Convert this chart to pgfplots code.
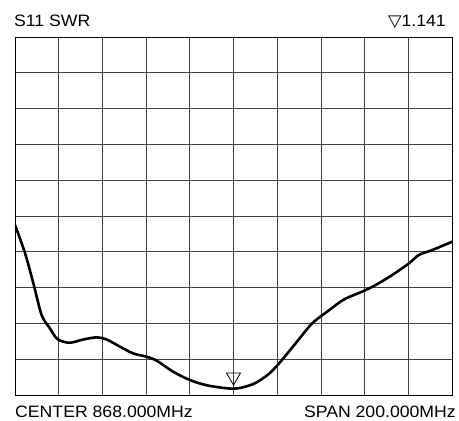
\documentclass[border=0pt]{standalone}
\usepackage{pgfplots}
\pgfplotsset{compat=1.18}
\usepackage{fontspec}
\setmainfont{Liberation Sans}
\newfontfamily\dejavu{DejaVu Sans}

\begin{document}
\begin{tikzpicture}
  \begin{axis}[
    name=ax,
    at={(0,0)}, anchor=south west,
    scale only axis,
    width=437pt, height=358pt,
    xmin=0, xmax=10, ymin=0, ymax=10,
    xtick={0,...,10}, ytick={0,...,10},
    xticklabels={}, yticklabels={},
    major tick length=0pt,
    grid=major,
    major grid style={black!75, line width=0.8pt},
    axis line style={black, line width=0.9pt},
  ]
    % SWR trace
    \addplot[black, line width=2.6pt, smooth, tension=0.5] coordinates {
      (0,4.75) (0.23,3.96) (0.42,3.12) (0.61,2.23) (0.80,1.86) (0.92,1.63)
      (1.03,1.52) (1.26,1.46) (1.56,1.55) (1.87,1.61) (2.10,1.55) (2.40,1.35)
      (2.71,1.16) (3.01,1.07) (3.24,0.96) (3.62,0.65) (4.00,0.42) (4.39,0.27)
      (4.92,0.18) (5.20,0.21) (5.51,0.34) (5.81,0.59) (6.04,0.88) (6.42,1.44)
      (6.80,2.00) (7.19,2.37) (7.53,2.67) (7.95,2.89) (8.25,3.07) (8.63,3.35)
      (9.02,3.68) (9.24,3.91) (9.55,4.05) (10.0,4.28)
    };
    % marker
    \addplot[only marks, mark=triangle, mark size=8pt,
      mark options={rotate=180, fill=white, draw=black, line width=0.8pt}]
      coordinates {(5.0,0.50)};
  \end{axis}
  \begin{scope}[every node/.style={font=\fontsize{16.5}{20}\selectfont, inner sep=0pt, xscale=1.07, transform shape}]
    \node[anchor=base west] at ([xshift=-1pt, yshift=10pt]ax.north west) {S11 SWR};
    \node[anchor=base east] at ([xshift=-6pt, yshift=10pt]ax.north east) {{\dejavu ▽}1.141};
    \node[anchor=base west] at ([yshift=-23pt]ax.south west) {CENTER 868.000MHz};
    \node[anchor=base east] at ([xshift=4pt, yshift=-23pt]ax.south east) {SPAN 200.000MHz};
  \end{scope}
  \pgfresetboundingbox
  \path (-15pt,-26pt) rectangle (444pt,395pt);
\end{tikzpicture}
\end{document}
